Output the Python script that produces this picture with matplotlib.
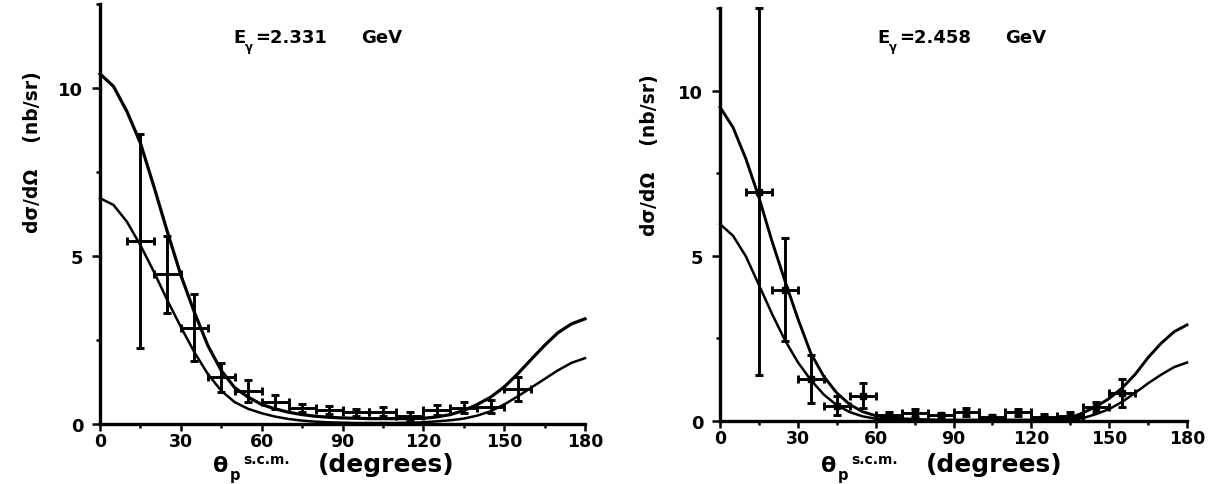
import matplotlib
matplotlib.use("Agg")
import matplotlib.pyplot as plt
from matplotlib.ticker import MultipleLocator

plt.rcParams['font.family'] = ['DejaVu Sans']
plt.rcParams['font.weight'] = 'bold'

# ---------------- data ----------------
theta_curve = list(range(0, 181, 5))

# Left panel (E_gamma = 2.331 GeV)
left_theta = [15, 25, 35, 45, 55, 65, 75, 85, 95, 105, 115, 125, 135, 145, 155]
left_y = [5.44, 4.45, 2.87, 1.39, 0.98, 0.65, 0.47, 0.42, 0.35, 0.37, 0.24, 0.42, 0.48, 0.52, 1.04]
left_yerr = [3.18, 1.14, 1.0, 0.43, 0.32, 0.2, 0.12, 0.12, 0.1, 0.14, 0.12, 0.14, 0.16, 0.19, 0.37]
left_xerr = [5] * 15
left_upper = [10.42, 10.05, 9.30, 8.36, 7.07, 5.72, 4.43, 3.33, 2.34, 1.59, 1.08, 0.80, 0.58,
              0.45, 0.35, 0.28, 0.23, 0.20, 0.18, 0.17, 0.16, 0.16, 0.16, 0.16, 0.17, 0.21,
              0.28, 0.40, 0.58, 0.80, 1.10, 1.49, 1.92, 2.34, 2.72, 2.98, 3.13]
left_lower = [6.72, 6.52, 6.02, 5.32, 4.53, 3.68, 2.89, 2.14, 1.49, 0.99, 0.65, 0.45, 0.32,
              0.22, 0.15, 0.10, 0.07, 0.05, 0.04, 0.03, 0.03, 0.03, 0.03, 0.04, 0.05, 0.08,
              0.11, 0.16, 0.25, 0.38, 0.58, 0.82, 1.08, 1.34, 1.60, 1.82, 1.96]

# Right panel (E_gamma = 2.458 GeV)
right_theta = [15, 25, 35, 45, 55, 65, 75, 85, 95, 105, 115, 125, 135, 145, 155]
right_y = [6.94, 3.98, 1.27, 0.46, 0.77, 0.18, 0.23, 0.18, 0.26, 0.11, 0.26, 0.13, 0.16, 0.41, 0.84]
right_yerr = [5.56, 1.57, 0.74, 0.29, 0.37, 0.08, 0.12, 0.07, 0.12, 0.06, 0.11, 0.07, 0.1, 0.15, 0.42]
right_xerr = [5] * 15
right_upper = [9.50, 8.89, 7.93, 6.77, 5.45, 4.25, 3.10, 2.05, 1.35, 0.85, 0.50, 0.28, 0.16,
               0.10, 0.07, 0.05, 0.04, 0.03, 0.03, 0.03, 0.03, 0.03, 0.03, 0.03, 0.03, 0.04,
               0.06, 0.10, 0.25, 0.44, 0.68, 1.00, 1.41, 1.92, 2.35, 2.70, 2.91]
right_lower = [5.96, 5.61, 4.98, 4.12, 3.25, 2.45, 1.78, 1.24, 0.80, 0.48, 0.27, 0.14, 0.07,
               0.04, 0.02, 0.01, 0.01, 0.01, 0.01, 0.01, 0.01, 0.01, 0.01, 0.01, 0.01, 0.01,
               0.02, 0.03, 0.09, 0.21, 0.36, 0.58, 0.85, 1.14, 1.40, 1.63, 1.77]

x_ticks = [0, 30, 60, 90, 120, 150, 180]
y_ticks = [0, 5, 10]
energies = ["2.331", "2.458"]

# ---------------- figure ----------------
W, H = 1215, 485
fig = plt.figure(figsize=(W / 100, H / 100), dpi=100)


def fx(px):
    return px / W


def fy(py):
    return 1 - py / H


axL = fig.add_axes([fx(100), fy(425), fx(485), 420 / H])
axR = fig.add_axes([fx(720), fy(422), fx(467), 413 / H])


def style_axes(ax):
    ax.set_xlim(0, 180)
    ax.set_ylim(0, 12.5)
    for s in ['top', 'right']:
        ax.spines[s].set_visible(False)
    for s in ['left', 'bottom']:
        ax.spines[s].set_linewidth(2.4)
    ax.set_xticks(x_ticks)
    ax.set_yticks(y_ticks)
    ax.xaxis.set_minor_locator(MultipleLocator(15))
    ax.yaxis.set_minor_locator(MultipleLocator(2.5))
    ax.tick_params(which='major', direction='out', length=5, width=1.8, labelsize=12.5, pad=1)
    ax.tick_params(which='minor', direction='out', length=3, width=1.8)
    ax.tick_params(axis='y', which='major', length=6, pad=6, labelsize=13)
    for lab in ax.get_xticklabels() + ax.get_yticklabels():
        lab.set_fontweight('bold')
    ax.patch.set_alpha(0)


style_axes(axL)
style_axes(axR)

# curves
axL.plot(theta_curve, left_upper, color='black', lw=2.3, clip_on=False)
axL.plot(theta_curve, left_lower, color='black', lw=1.8, clip_on=False)
axR.plot(theta_curve, right_upper, color='black', lw=2.1, clip_on=False)
axR.plot(theta_curve, right_lower, color='black', lw=1.8, clip_on=False)

# data
axL.errorbar(left_theta, left_y, yerr=left_yerr, xerr=left_xerr, fmt='none',
             ecolor='black', elinewidth=2.1, capsize=3.2, capthick=2.1, clip_on=False)
axR.errorbar(right_theta, right_y, yerr=right_yerr, xerr=right_xerr, fmt='s',
             color='black', ms=4, ecolor='black', elinewidth=2.1, capsize=3.2,
             capthick=2.1, clip_on=False)

# y labels
fig.text(fx(33), fy(152), 'd\u03c3/d\u03a9    (nb/sr)', rotation=90, ha='center',
         va='center', fontsize=13.5, fontweight='bold')
fig.text(fx(650), fy(155), 'd\u03c3/d\u03a9    (nb/sr)', rotation=90, ha='center',
         va='center', fontsize=13.5, fontweight='bold')


# x labels
def xlabel(x0):
    fig.text(fx(x0), fy(472), '\u03b8', fontsize=16, fontweight='bold', ha='left', va='baseline')
    fig.text(fx(x0 + 17), fy(480), 'p', fontsize=10.5, fontweight='bold', ha='left', va='baseline')
    fig.text(fx(x0 + 30), fy(464), 's.c.m.', fontsize=10, fontweight='bold', ha='left', va='baseline')
    fig.text(fx(x0 + 105), fy(472), '(degrees)', fontsize=18, fontweight='bold', ha='left', va='baseline')


xlabel(213)
xlabel(821)


# energy annotations
def energy(x0, val):
    fig.text(fx(x0), fy(43), 'E', fontsize=13, fontweight='bold', ha='left', va='baseline')
    fig.text(fx(x0 + 12), fy(51), '\u03b3', fontsize=8.5, fontweight='bold', ha='left', va='baseline')
    fig.text(fx(x0 + 22), fy(43), '=' + val, fontsize=13, fontweight='bold', ha='left', va='baseline')
    fig.text(fx(x0 + 128), fy(43), 'GeV', fontsize=13, fontweight='bold', ha='left', va='baseline')


energy(233, energies[0])
energy(877, energies[1])

fig.savefig('out.png', dpi=100)
